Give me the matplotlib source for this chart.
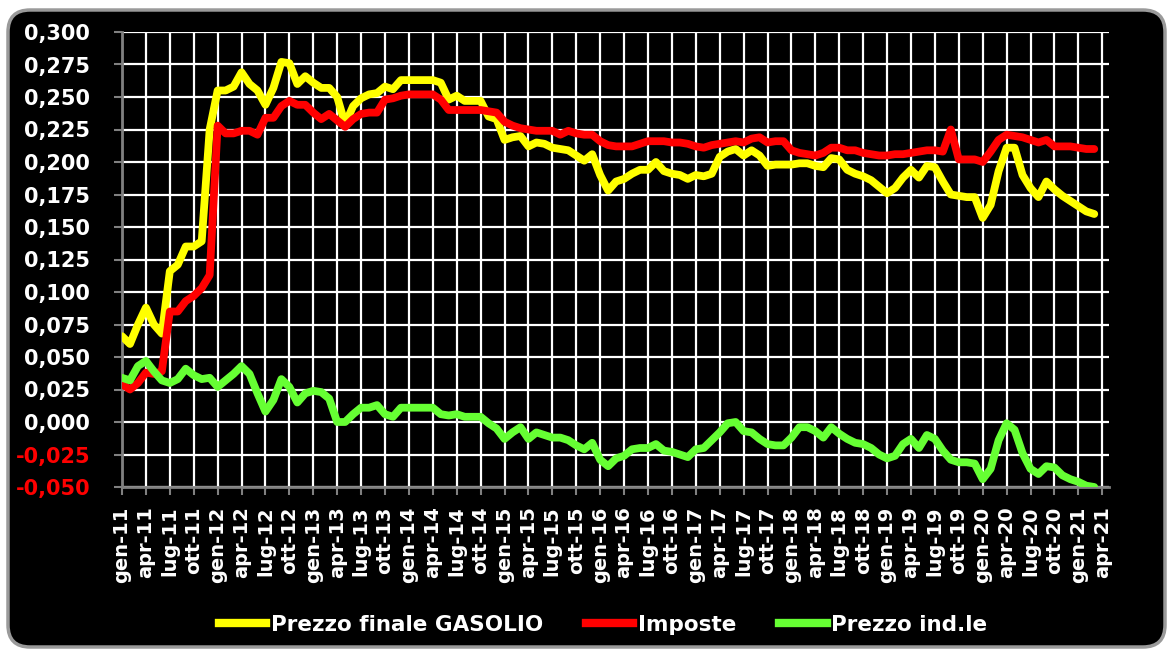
import matplotlib
matplotlib.use("Agg")
import matplotlib.pyplot as plt
from matplotlib.patches import FancyBboxPatch
from matplotlib.lines import Line2D
import numpy as np

# monthly values, gen-11 .. mar-21
prezzo_finale = [
    0.066, 0.060, 0.075, 0.088, 0.075, 0.068, 0.116, 0.121, 0.135, 0.135,
    0.139, 0.225, 0.255, 0.255, 0.258, 0.269, 0.260, 0.255, 0.244, 0.257,
    0.277, 0.276, 0.260, 0.266, 0.261, 0.257, 0.257, 0.250, 0.229, 0.243,
    0.249, 0.252, 0.253, 0.258, 0.256, 0.263, 0.263, 0.263, 0.263, 0.263,
    0.261, 0.248, 0.251, 0.247, 0.247, 0.247, 0.235, 0.233, 0.217, 0.219,
    0.220, 0.212, 0.215, 0.214, 0.211, 0.210, 0.209, 0.205, 0.201, 0.206,
    0.190, 0.178, 0.185, 0.187, 0.191, 0.194, 0.194, 0.200, 0.193, 0.191,
    0.190, 0.187, 0.190, 0.189, 0.191, 0.204, 0.208, 0.210, 0.205, 0.209,
    0.205, 0.197, 0.198, 0.198, 0.198, 0.199, 0.199, 0.197, 0.196, 0.203,
    0.202, 0.194, 0.191, 0.189, 0.186, 0.181, 0.176, 0.180, 0.188, 0.194,
    0.188, 0.197, 0.196, 0.185, 0.175, 0.174, 0.173, 0.173, 0.157, 0.167,
    0.193, 0.211, 0.211, 0.190, 0.180, 0.173, 0.185, 0.179, 0.174, 0.170,
    0.166, 0.162, 0.160,
]
imposte = [
    0.029, 0.025, 0.030, 0.038, 0.037, 0.039, 0.085, 0.085, 0.093, 0.097,
    0.103, 0.113, 0.228, 0.222, 0.222, 0.224, 0.224, 0.221, 0.234, 0.234,
    0.243, 0.247, 0.244, 0.244, 0.238, 0.233, 0.237, 0.232, 0.227, 0.233,
    0.237, 0.238, 0.238, 0.248, 0.249, 0.251, 0.252, 0.252, 0.252, 0.252,
    0.248, 0.240, 0.240, 0.240, 0.240, 0.240, 0.239, 0.238, 0.231, 0.228,
    0.226, 0.225, 0.224, 0.224, 0.224, 0.221, 0.224, 0.222, 0.221, 0.221,
    0.216, 0.213, 0.212, 0.212, 0.212, 0.214, 0.216, 0.216, 0.216, 0.215,
    0.215, 0.214, 0.212, 0.211, 0.213, 0.214, 0.215, 0.216, 0.215, 0.218,
    0.219, 0.215, 0.216, 0.216, 0.209, 0.207, 0.206, 0.205, 0.207, 0.211,
    0.211, 0.209, 0.209, 0.207, 0.206, 0.205, 0.205, 0.206, 0.206, 0.207,
    0.208, 0.209, 0.209, 0.208, 0.225, 0.202, 0.202, 0.202, 0.200, 0.208,
    0.217, 0.221, 0.220, 0.219, 0.217, 0.215, 0.217, 0.212, 0.212, 0.212,
    0.211, 0.210, 0.210,
]
prezzo_ind = [
    0.034, 0.032, 0.043, 0.047, 0.039, 0.032, 0.030, 0.033, 0.041, 0.036,
    0.033, 0.034, 0.027, 0.032, 0.037, 0.043, 0.037, 0.022, 0.008, 0.017,
    0.033, 0.027, 0.015, 0.022, 0.024, 0.023, 0.018, 0.000, 0.000, 0.006,
    0.011, 0.011, 0.013, 0.006, 0.004, 0.011, 0.011, 0.011, 0.011, 0.011,
    0.006, 0.005, 0.006, 0.004, 0.004, 0.004, -0.001, -0.005, -0.013, -0.008,
    -0.004, -0.013, -0.008, -0.010, -0.012, -0.012, -0.014, -0.018, -0.021, -0.016,
    -0.029, -0.034, -0.028, -0.026, -0.021, -0.020, -0.020, -0.017, -0.022, -0.023,
    -0.025, -0.027, -0.021, -0.020, -0.014, -0.008, -0.001, 0.000, -0.007, -0.008,
    -0.013, -0.017, -0.018, -0.018, -0.012, -0.004, -0.004, -0.007, -0.012, -0.004,
    -0.009, -0.013, -0.016, -0.017, -0.020, -0.025, -0.028, -0.026, -0.017, -0.013,
    -0.020, -0.010, -0.013, -0.022, -0.029, -0.031, -0.031, -0.032, -0.044, -0.036,
    -0.014, -0.001, -0.006, -0.024, -0.036, -0.040, -0.034, -0.035, -0.041, -0.044,
    -0.046, -0.049, -0.050,
]

mesi = ["gen", "apr", "lug", "ott"]
x_labels = [f"{m}-{y}" for y in range(11, 22) for m in mesi][:42]   # gen-11 .. apr-21
y_ticks = [-0.050, -0.025, 0.000, 0.025, 0.050, 0.075, 0.100, 0.125,
           0.150, 0.175, 0.200, 0.225, 0.250, 0.275, 0.300]

series = [
    ("Prezzo finale GASOLIO", prezzo_finale, "#FFFF00"),
    ("Imposte", imposte, "#FF0000"),
    ("Prezzo ind.le", prezzo_ind, "#66FF33"),
]

W, H = 1173, 651
fig = plt.figure(figsize=(W / 100, H / 100), dpi=100, facecolor="white")

# black rounded panel drawn in its own background axes
bg = fig.add_axes([0, 0, 1, 1], zorder=-10)
bg.set_xlim(0, W)
bg.set_ylim(0, H)
bg.axis("off")
bg.add_patch(FancyBboxPatch((8, 4), 1157, 637, boxstyle="round,pad=0,rounding_size=22",
                            facecolor="black", edgecolor="#9a9a9a", linewidth=2.5))

ax = fig.add_axes([122 / W, 1 - 487 / H, (1109 - 122) / W, (487 - 32) / H], zorder=1)
ax.patch.set_visible(False)

x = np.arange(len(prezzo_finale))
x_ticks = np.arange(0, 124, 3)
x_lim = (0, 123.85)
y_lim = (-0.050, 0.300)

# white grid in data coordinates
ax.hlines(y_ticks, x_lim[0], x_lim[1], colors="white", linewidth=1.6, zorder=2)
ax.vlines(x_ticks, y_lim[0], y_lim[1], colors="white", linewidth=1.6, zorder=2)

for name, vals, col in series:
    ax.plot(x, vals, color=col, lw=5.6, solid_capstyle="round",
            solid_joinstyle="round", label=name, zorder=3)

ax.set_xlim(*x_lim)
ax.set_ylim(*y_lim)

ax.set_yticks(y_ticks)
ax.set_yticklabels([f"{v:.3f}".replace(".", ",") for v in y_ticks],
                   fontsize=15, fontweight="bold")

ax.set_xticks(x_ticks)
ax.set_xticklabels(x_labels, rotation=90, fontsize=14, fontweight="bold")

ax.tick_params(axis="both", colors="#808080", length=6, width=1.5)
ax.tick_params(axis="y", pad=17)
ax.tick_params(axis="x", pad=8)
for lab, v in zip(ax.get_yticklabels(), y_ticks):
    lab.set_color("#FF0000" if v < 0 else "white")
for lab in ax.get_xticklabels():
    lab.set_color("white")

for side in ["top", "right"]:
    ax.spines[side].set_visible(False)
for side in ["left", "bottom"]:
    ax.spines[side].set_color("#808080")
    ax.spines[side].set_linewidth(2)

handles = [Line2D([0], [0], color=c, lw=6) for _, _, c in series]
leg = fig.legend(handles, [s[0] for s in series], loc="center",
                 bbox_to_anchor=(603 / W, 1 - 625 / H), ncol=3, frameon=False,
                 handlelength=2.2, handletextpad=0.2, columnspacing=2.0,
                 prop={"weight": "bold", "size": 15.5})
for t in leg.get_texts():
    t.set_color("white")

fig.savefig("out.png", dpi=100, facecolor="white")
